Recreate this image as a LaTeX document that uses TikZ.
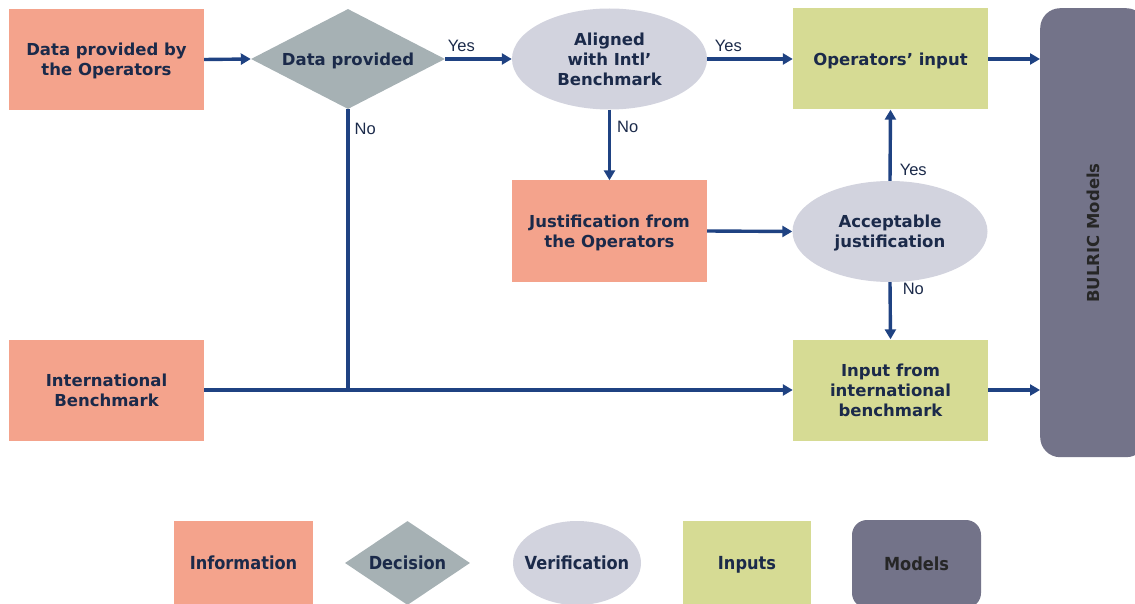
\documentclass[tikz,border=0pt]{standalone}
\usepackage{fontspec}
\setmainfont{DejaVu Sans}
\newfontfamily\lblfont{Liberation Sans}
\newfontfamily\condfont{DejaVu Sans Condensed}
\usetikzlibrary{shapes.geometric,arrows.meta}
\definecolor{salmon}{HTML}{F4A38C}
\definecolor{decgray}{HTML}{A6B1B4}
\definecolor{verif}{HTML}{D2D3DE}
\definecolor{inpgreen}{HTML}{D6DB94}
\definecolor{modelc}{HTML}{737389}
\definecolor{arrowc}{HTML}{1F4282}
\definecolor{txtc}{HTML}{1B2A4A}
\begin{document}
\begin{tikzpicture}[x=1pt,y=-1pt,
  base/.style={inner sep=0pt, text depth=0pt, text=txtc, align=center, font=\fontsize{16.5}{20}\selectfont\bfseries},
  infobox/.style={base, rectangle, fill=salmon, minimum width=195pt, minimum height=101pt},
  decbox/.style={base, diamond, fill=decgray, shape aspect=1.94, minimum width=194pt, minimum height=100pt},
  verbox/.style={base, ellipse, fill=verif, minimum width=195pt, minimum height=101pt},
  inbox/.style={base, rectangle, fill=inpgreen, minimum width=195pt, minimum height=101pt},
  legtext/.style={inner sep=0pt, text depth=0pt, text=txtc, align=center, font=\fontsize{18}{22}\selectfont\condfont\bfseries},
  line/.style={draw=arrowc, line width=3.4pt},
  arr/.style={line, -{Triangle[length=10pt,width=11pt]}},
  lbl/.style={inner sep=0pt, text=txtc, font=\fontsize{16.5}{20}\selectfont\lblfont}
]
\useasboundingbox (0,0) rectangle (1135,604);
\clip (0,0) rectangle (1135,604);

% models bar
\node[base, rectangle, rounded corners=20pt, fill=modelc, minimum width=106pt, minimum height=449pt, anchor=north west]
  (models) at (1040,8) {};
\node[base, rotate=90, text=black!85, font=\fontsize{16.5}{20}\selectfont\bfseries] (modlabel) at (1093,233) {BULRIC Models};

% main nodes
\node[infobox] (data) at (106.5,59.5) {Data provided by\\the Operators};
\node[decbox] (dec) at (348,59) {Data provided};
\node[verbox] (align) at (609.5,59) {Aligned\\with Intl’\\Benchmark};
\node[inbox] (opin) at (890.5,59) {Operators’ input};
\node[infobox] (just) at (609.5,231) {Justification from\\the Operators};
\node[verbox] (acc) at (890,231.5) {Acceptable\\justification};
\node[infobox] (ib) at (106.5,390) {International\\Benchmark};
\node[inbox] (inb) at (890.5,390) {Input from\\international\\benchmark};
\coordinate (join) at (dec.south |- ib.east);

% connectors
\draw[arr] (data.east) -- (dec.west);
\draw[arr] (dec.east) -- node[lbl, pos=0, anchor=base west, xshift=1pt, yshift=7pt] (y1) {Yes} (align.west);
\draw[arr] (align.east) -- node[lbl, pos=0, anchor=base west, xshift=6pt, yshift=7pt] (y2) {Yes} (opin.west);
\draw[arr] (opin.east) -- (opin.east -| models.west);
\draw[line] (dec.south) -- node[lbl, pos=0.07, anchor=west, xshift=5pt] (n1) {No} (join);
\draw[arr] (ib.east) -- (inb.west);
\draw[arr] (align.south) -- node[lbl, pos=0.24, anchor=west, xshift=6pt] (n2) {No} (just.north);
\draw[arr] (just.east) -- (acc.west);
\draw[arr] (acc.north) -- node[lbl, pos=0.15, anchor=west, xshift=8pt] (y3) {Yes} (opin.south);
\draw[arr] (acc.south) -- node[lbl, pos=0.12, anchor=west, xshift=11pt] (n3) {No} (inb.north);
\draw[arr] (inb.east) -- (inb.east -| models.west);

% legend
\node[legtext, rectangle, fill=salmon, minimum width=139pt, minimum height=85pt] (lg1) at (243.5,563) {Information};
\node[legtext, diamond, fill=decgray, minimum width=125pt, minimum height=84pt] (lg2) at (407.5,563) {\makebox[0pt]{Decision}};
\node[legtext, ellipse, fill=verif, minimum width=128pt, minimum height=84pt] (lg3) at (577,563) {\makebox[0pt]{Verification}};
\node[legtext, rectangle, fill=inpgreen, minimum width=128pt, minimum height=85pt] (lg4) at (747,563) {Inputs};
\node[legtext, rectangle, rounded corners=15pt, fill=modelc, minimum width=129pt, minimum height=88pt, text=black!85] (lg5) at (916.5,564) {Models};
\end{tikzpicture}
\end{document}
